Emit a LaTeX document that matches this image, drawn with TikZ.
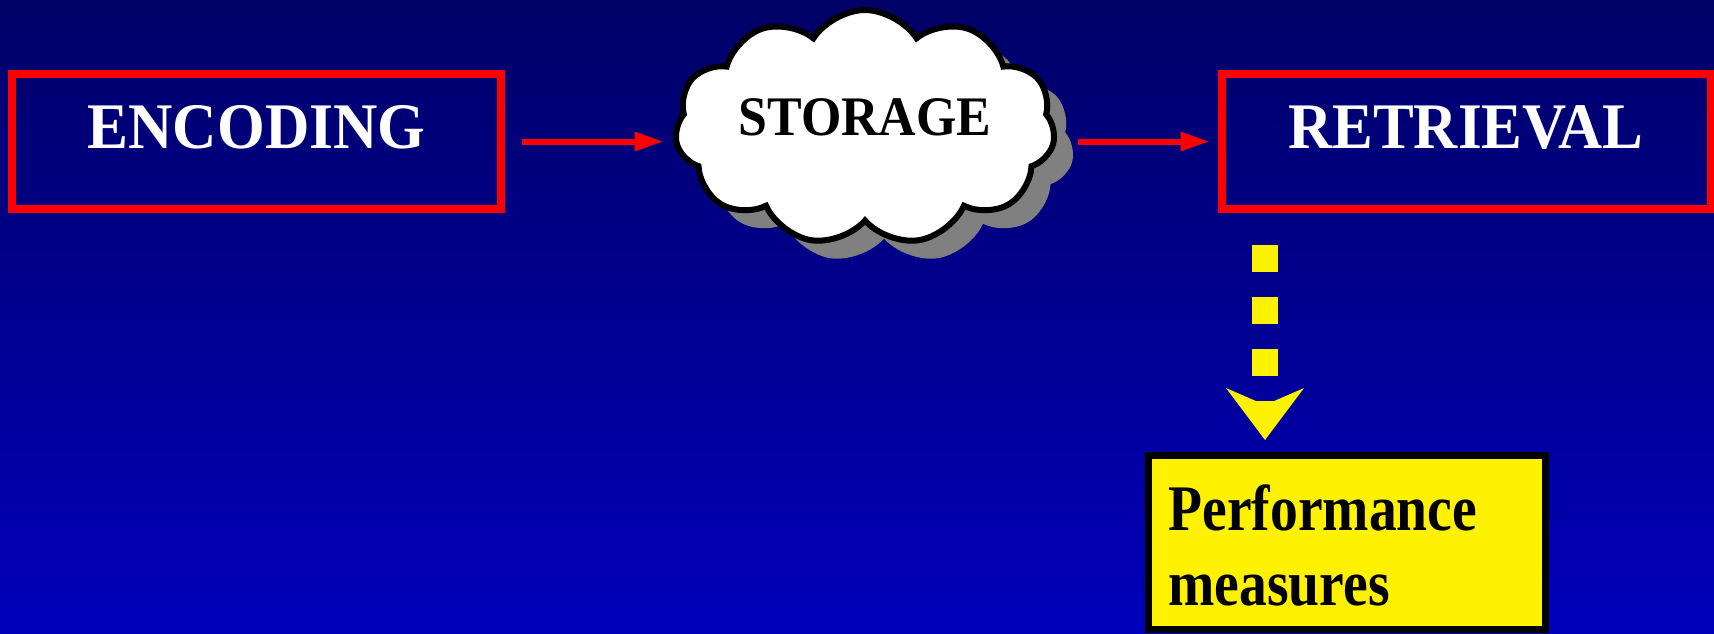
\documentclass[tikz,border=0pt]{standalone}
\usepackage{fontspec}
\setmainfont{Liberation Serif}
\usepackage{graphicx}
\usetikzlibrary{arrows.meta,shapes.symbols,shadows}
\definecolor{bgtop}{RGB}{0,0,102}
\definecolor{bgbot}{RGB}{0,0,187}
\definecolor{schatten}{RGB}{128,128,128}
\newcommand{\schmal}[2]{\scalebox{#1}[1]{#2}}
\begin{document}
\begin{tikzpicture}[x=0.5pt, y=-0.5pt,
  phase/.style={draw=red, line width=4pt, minimum width=244.5pt, minimum height=67.5pt,
    inner sep=0pt, text=white, font=\fontsize{32.5}{37}\selectfont\bfseries,
    text height=22pt, text depth=15.5pt},
  wolke/.style={cloud, cloud puffs=11, cloud puff arc=115, aspect=2, shape border rotate=16.4,
    draw=black, line width=3pt, fill=white, minimum width=190pt, minimum height=117.5pt, inner sep=0pt,
    font=\fontsize{27.9}{32}\selectfont\bfseries, text height=19pt, text depth=11.5pt,
    general shadow={fill=schatten, shadow xshift=9.5pt, shadow yshift=-9pt}},
  fluss/.style={red, line width=3pt, -{Triangle[length=14.5pt, width=9pt]}},
  gelbpfeil/.style={yellow, line width=13pt, dash pattern=on 13.25pt off 12.75pt,
    -{Stealth[length=26pt, width=39pt, inset=8.5pt, line width=0pt]}},
  messbox/.style={draw=black, fill=yellow, line width=3.5pt, minimum width=198.5pt,
    minimum height=87pt, inner xsep=10pt, inner ysep=0pt, text width=178.5pt, align=left,
    font=\fontsize{32.5}{37.5}\selectfont\bfseries, text height=20pt, text depth=32.5pt}]
  % Hintergrund mit Verlauf
  \fill[top color=bgtop, bottom color=bgbot] (0, 0) rectangle (1714, 633);
  \useasboundingbox (0, 0) rectangle (1714, 633);
  % Phasen
  \node[phase] (enc) at (256.5, 141.5) {\schmal{0.945}{ENCODING}};
  \node[wolke] (storage) at (865, 127.5) {\schmal{0.93}{STORAGE}};
  \node[phase] (ret) at (1466, 141.5) {\schmal{0.94}{RETRIEVAL}};
  % Leistungsmasse
  \node[messbox] (perf) at (1347, 542.5) {\schmal{0.855}{Performance}\\\schmal{0.855}{measures}};
  % Pfeile zwischen den Phasen
  \draw[fluss, shorten <=8.5pt, shorten >=5pt] (enc) -- (enc -| storage.west);
  \draw[fluss, shorten <=11pt, shorten >=4pt] (ret -| storage.east) -- (ret);
  % gestrichelter Pfeil nach unten
  \draw[gelbpfeil, shorten <=16pt, shorten >=6pt] ([xshift=-100.5pt]ret.south) -- ([xshift=-41pt]perf.north);
\end{tikzpicture}
\end{document}
